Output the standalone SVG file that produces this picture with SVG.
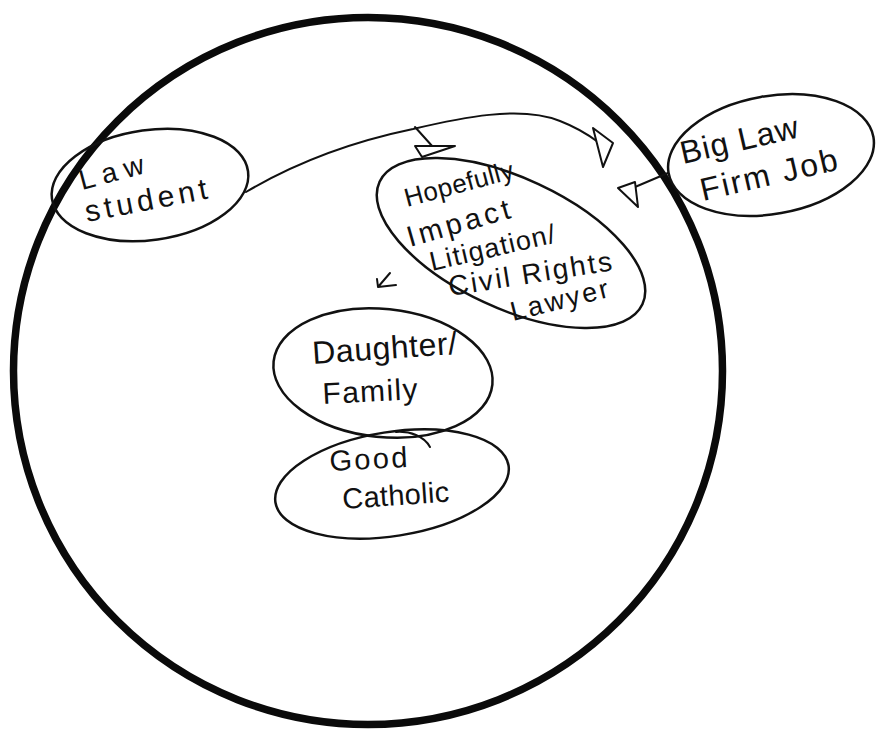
<svg xmlns="http://www.w3.org/2000/svg" width="877" height="732" viewBox="0 0 877 732">
<style>
.node{fill:none;stroke:#111;stroke-width:2.5}
.big{fill:none;stroke:#0a0a0a;stroke-width:7.5}
.t{font-family:"Liberation Sans","DejaVu Sans",sans-serif;fill:#111}
.c{fill:none;stroke:#111;stroke-width:2;stroke-linecap:round;stroke-linejoin:round}
.h{fill:#fff;stroke:#111;stroke-width:2;stroke-linejoin:round}
</style>
<rect width="877" height="732" fill="#fff"/>
<g id="world">
<ellipse class="big" cx="368" cy="371" rx="354.5" ry="353.5"/>
</g>
<g id="law-student">
<ellipse class="node" cx="150" cy="185" rx="99" ry="55" transform="rotate(-8 150 185)"/>
<text class="t" font-size="28" x="82" y="190" textLength="66" lengthAdjust="spacing" transform="rotate(-15 82 190)">Law</text>
<text class="t" font-size="30" x="87" y="222" textLength="124" lengthAdjust="spacing" transform="rotate(-11 87 222)">student</text>
</g>
<g id="big-law">
<ellipse class="node" cx="771" cy="155" rx="104" ry="59" transform="rotate(-10 771 155)"/>
<text class="t" font-size="32" x="683" y="164" textLength="120" lengthAdjust="spacing" transform="rotate(-13 683 164)">Big Law</text>
<text class="t" font-size="32" x="703" y="201" textLength="140" lengthAdjust="spacing" transform="rotate(-13 703 201)">Firm Job</text>
</g>
<g id="impact">
<ellipse class="node" cx="511" cy="243" rx="145" ry="65" transform="rotate(25 511 243)"/>
<text class="t" font-size="26" x="407" y="207" textLength="112" lengthAdjust="spacing" transform="rotate(-15 407 207)">Hopefully</text>
<text class="t" font-size="29" x="410" y="247" textLength="106" lengthAdjust="spacing" transform="rotate(-16 410 247)">Impact</text>
<text class="t" font-size="27" x="432" y="271" textLength="128" lengthAdjust="spacing" transform="rotate(-13 432 271)">Litigation/</text>
<text class="t" font-size="28" x="450" y="296" textLength="165" lengthAdjust="spacing" transform="rotate(-9 450 296)">Civil Rights</text>
<text class="t" font-size="27" x="513" y="321" textLength="100" lengthAdjust="spacing" transform="rotate(-14 513 321)">Lawyer</text>
</g>
<g id="family">
<ellipse class="node" cx="383" cy="373" rx="110" ry="64" transform="rotate(6 383 373)"/>
<text class="t" font-size="32" x="313" y="364" textLength="145" lengthAdjust="spacing" transform="rotate(-4 313 364)">Daughter/</text>
<text class="t" font-size="30" x="323" y="404" textLength="95" lengthAdjust="spacing" transform="rotate(-3 323 404)">Family</text>
</g>
<g id="catholic">
<ellipse class="node" cx="392" cy="484" rx="118" ry="52" transform="rotate(-9 392 484)"/>
<text class="t" font-size="29" x="330" y="471" textLength="78" lengthAdjust="spacing" transform="rotate(-3 330 471)">Good</text>
<text class="t" font-size="29" x="343" y="509" textLength="107" lengthAdjust="spacing" transform="rotate(-4 343 509)">Catholic</text>
</g>
<g id="connectors">
<path class="c" d="M246,192 C300,160 360,140 413,129 C460,118 520,105 560,121 C578,128 590,136 598,142"/>
<polygon class="h" points="593,128 613,143 603,167"/>
<path class="c" d="M415,127 L433,147"/>
<polygon class="h" points="415,146 455,146 422,157"/>
<path class="c" d="M668,173 L635,187"/>
<polygon class="h" points="618,188 635,182 638,207"/>
<path class="c" d="M390,273 L378,287 M378,287 L396,285 M378,287 L377,279"/>
<path class="c" d="M396,432 C410,431 424,436 430,447"/>
</g>
</svg>
